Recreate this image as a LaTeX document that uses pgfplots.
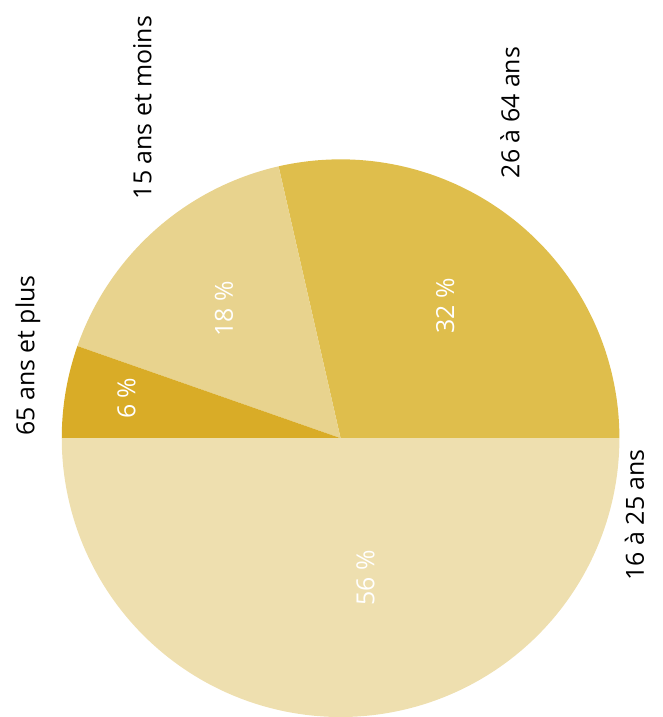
\documentclass[border=0pt]{standalone}
\usepackage{pgfplots}
\pgfplotsset{compat=1.18}
\usepackage{fontspec}
\setmainfont{Open Sans}
\definecolor{cA}{HTML}{DFBE4C}
\definecolor{cB}{HTML}{E8D38E}
\definecolor{cC}{HTML}{D9AC27}
\definecolor{cD}{HTML}{EEDFAF}
% values (percent as printed; pie is normalised over their sum)
\def\vA{32}\def\vB{18}\def\vC{6}\def\vD{56}
\pgfmathsetmacro\tot{\vA+\vB+\vC+\vD}
\pgfmathsetmacro\aA{\vA/\tot*360}
\pgfmathsetmacro\aB{\aA+\vB/\tot*360}
\pgfmathsetmacro\aC{\aB+\vC/\tot*360}
\pgfmathsetmacro\aD{\aC+\vD/\tot*360}
\tikzset{lab/.style={rotate=90, font=\fontsize{25}{29}\selectfont}}
\begin{document}
\begin{tikzpicture}
\begin{axis}[
  scale only axis, width=665pt, height=717pt,
  xmin=0, xmax=665, ymin=0, ymax=717,
  hide axis, clip=false
]
\path (rel axis cs:0,0) rectangle (rel axis cs:1,1);
\addplot[fill=cA, draw=none, domain=0:\aA, samples=120] ({342+280*cos(x)},{277+280*sin(x)}) -- (axis cs:342,277) -- cycle;
\addplot[fill=cB, draw=none, domain=\aA:\aB, samples=80] ({342+280*cos(x)},{277+280*sin(x)}) -- (axis cs:342,277) -- cycle;
\addplot[fill=cC, draw=none, domain=\aB:\aC, samples=40] ({342+280*cos(x)},{277+280*sin(x)}) -- (axis cs:342,277) -- cycle;
\addplot[fill=cD, draw=none, domain=\aC:\aD, samples=180] ({342+280*cos(x)},{277+280*sin(x)}) -- (axis cs:342,277) -- cycle;
% inside labels
\node[lab, white] at (axis cs:447,410) {32 \%};
\node[lab, white] at (axis cs:225,407) {18 \%};
\node[lab, white] at (axis cs:127,317) {6 \%};
\node[lab, white] at (axis cs:367,137) {56 \%};
% outside labels
\node[lab] at (axis cs:512,604) {26 à 64 ans};
\node[lab] at (axis cs:143,609) {15 ans et moins};
\node[lab] at (axis cs:28,360) {65 ans et plus};
\node[lab] at (axis cs:637,200) {16 à 25 ans};
\end{axis}
\end{tikzpicture}
\end{document}
